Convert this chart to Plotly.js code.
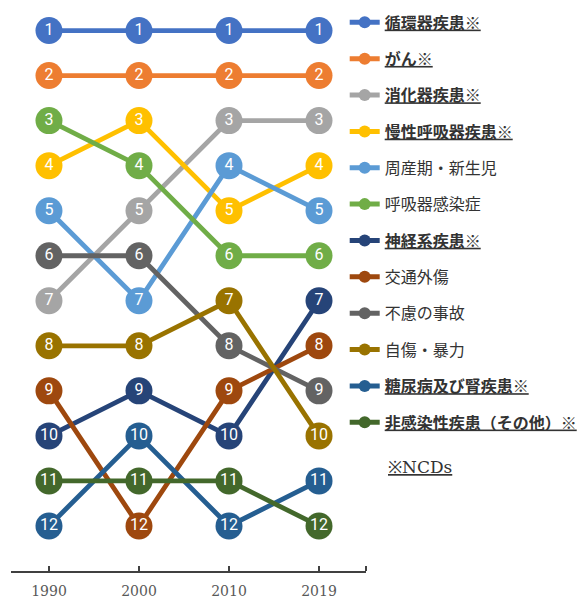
<!DOCTYPE html>
<html>
<head>
<meta charset="utf-8">
<script src="https://cdn.plot.ly/plotly-3.0.1.min.js"></script>
<style>html,body{margin:0;padding:0;background:#fff;}#chart{width:583px;height:601px;}</style>
</head>
<body>
<div id="chart"></div>
<script>
const years = ['1990', '2000', '2010', '2019'];
const seriesNames = [
  '循環器疾患※', 'がん※', '消化器疾患※', '慢性呼吸器疾患※', '周産期・新生児', '呼吸器感染症',
  '神経系疾患※', '交通外傷', '不慮の事故', '自傷・暴力', '糖尿病及び腎疾患※', '非感染性疾患（その他）※'
];
const isNCD = [true, true, true, true, false, false, true, false, false, false, true, true];
const ranks = [
  [1, 1, 1, 1],
  [2, 2, 2, 2],
  [7, 5, 3, 3],
  [4, 3, 5, 4],
  [5, 7, 4, 5],
  [3, 4, 6, 6],
  [10, 9, 10, 7],
  [9, 12, 9, 8],
  [6, 6, 8, 9],
  [8, 8, 7, 10],
  [12, 10, 12, 11],
  [11, 11, 11, 12]
];
const colors = ['#4472C4', '#ED7D31', '#A5A5A5', '#FFC000', '#5B9BD5', '#70AD47',
  '#264478', '#9E480E', '#636363', '#997300', '#255E91', '#43682B'];
const note = '※NCDs';

const xIdx = years.map((_, i) => i);
const traces = [];
seriesNames.forEach((name, i) => {
  traces.push({
    type: 'scatter', mode: 'lines+markers',
    x: xIdx, y: ranks[i],
    name: isNCD[i] ? '<b><u>' + name + '</u></b>' : name,
    legendgroup: 'g' + i,
    line: {color: colors[i], width: 4.8},
    marker: {color: colors[i], size: 27},
    hoverinfo: 'skip'
  });
});
seriesNames.forEach((name, i) => {
  traces.push({
    type: 'scatter', mode: 'text',
    x: xIdx, y: ranks[i],
    text: ranks[i].map(String),
    textposition: 'middle center',
    textfont: {family: 'Roboto, sans-serif', size: 16, color: '#ffffff'},
    legendgroup: 'g' + i,
    showlegend: false,
    hoverinfo: 'skip'
  });
});

const layout = {
  width: 583, height: 601,
  margin: {l: 11, r: 217, t: 0, b: 30},
  paper_bgcolor: '#ffffff', plot_bgcolor: '#ffffff',
  showlegend: true,
  xaxis: {
    range: [-0.422, 3.522],
    tickvals: xIdx, ticktext: years,
    showgrid: false, zeroline: false,
    showline: true, linecolor: '#404040', linewidth: 2,
    ticks: 'inside', ticklen: 5, tickwidth: 2, tickcolor: '#404040',
    tickfont: {family: 'DejaVu Serif, serif', size: 14, color: '#595959'},
    ticklabelstandoff: 6,
    fixedrange: true
  },
  yaxis: {
    range: [13.0, 0.322],
    showgrid: false, zeroline: false, showline: false,
    showticklabels: false, ticks: '', fixedrange: true
  },
  legend: {
    x: 0.94, xanchor: 'left', y: 0.9905, yanchor: 'top',
    traceorder: 'grouped', tracegroupgap: 12.56,
    itemsizing: 'constant',
    font: {family: 'Noto Sans CJK JP, sans-serif', size: 16, color: '#333333'},
    bgcolor: 'rgba(0,0,0,0)'
  },
  shapes: [{
    type: 'line', xref: 'paper', yref: 'paper',
    x0: 1, x1: 1, y0: 0, y1: 5 / 571,
    line: {color: '#404040', width: 2}
  }],
  annotations: [{
    xref: 'paper', yref: 'paper', x: 1.056, y: 1 - 467 / 571,
    xanchor: 'left', yanchor: 'middle', showarrow: false,
    text: '<u>' + note + '</u>',
    font: {family: 'DejaVu Serif, serif', size: 17, color: '#333333'}
  }]
};

Plotly.newPlot('chart', traces, layout, {displayModeBar: false, staticPlot: true});
</script>
</body>
</html>
